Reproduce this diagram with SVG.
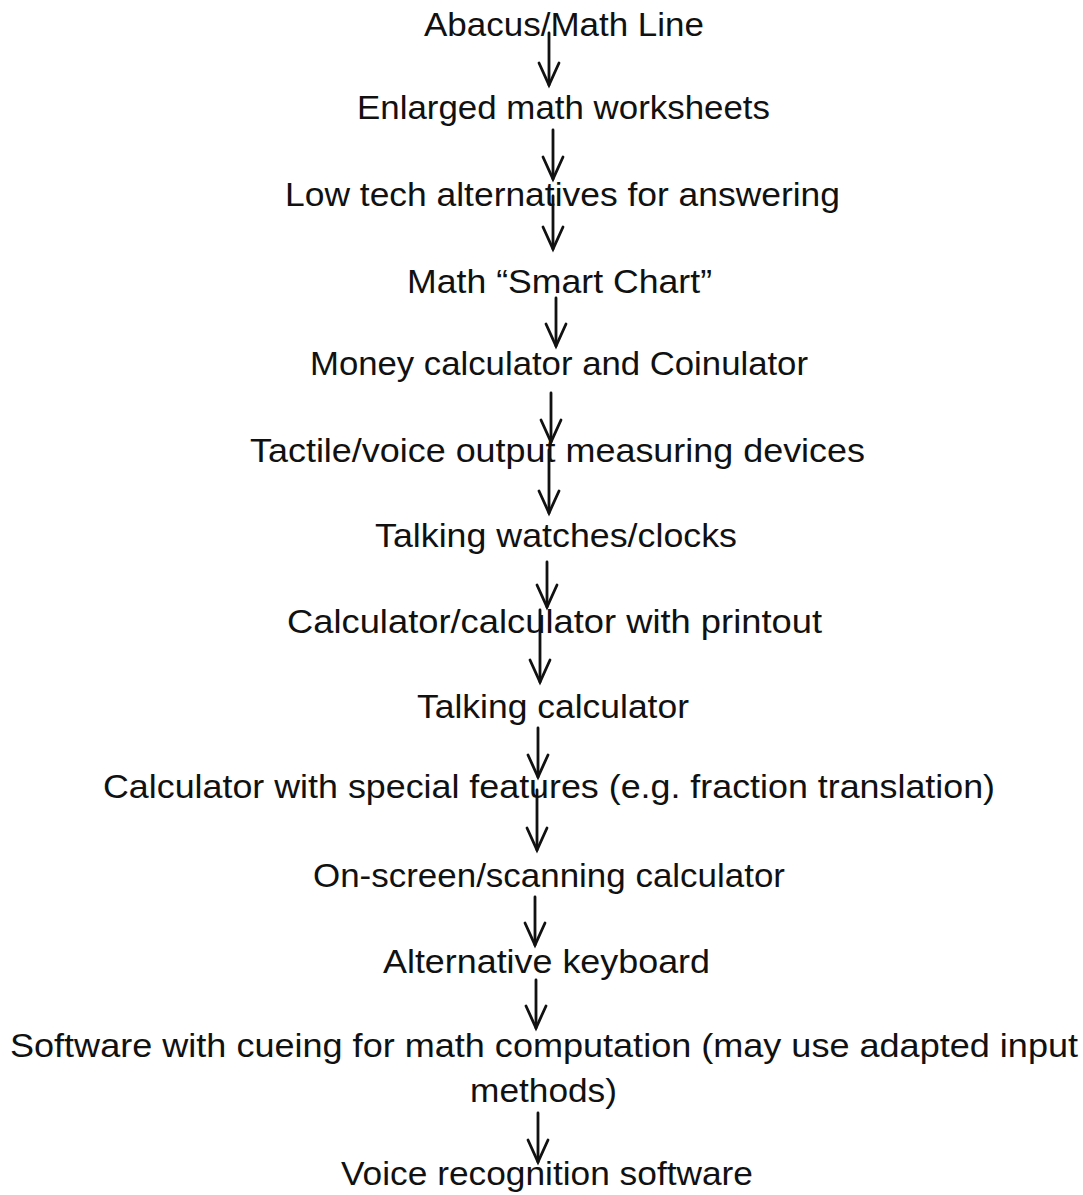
<svg xmlns="http://www.w3.org/2000/svg" width="1083" height="1195" viewBox="0 0 1083 1195">
<style>
text{font-family:"Liberation Sans","DejaVu Sans",sans-serif;font-size:33px;fill:#111}
.c line{stroke:#111;stroke-width:2.8;fill:none;stroke-linecap:round}
</style>
<defs>
<marker id="ah" viewBox="-26 -13 30 26" markerWidth="30" markerHeight="26" markerUnits="userSpaceOnUse" orient="auto" refX="0" refY="0" overflow="visible">
<path d="M-22,-10 L0,0 L-22,10" fill="none" stroke="#111" stroke-width="2.8" stroke-linejoin="miter" stroke-linecap="round"/>
</marker>
</defs>
<rect width="1083" height="1195" fill="#fff"/>
<g id="n1"><text x="424" y="36" textLength="280" lengthAdjust="spacingAndGlyphs">Abacus/Math Line</text></g>
<g id="n2"><text x="357" y="119" textLength="413" lengthAdjust="spacingAndGlyphs">Enlarged math worksheets</text></g>
<g id="n3"><text x="285" y="206" textLength="555" lengthAdjust="spacingAndGlyphs">Low tech alternatives for answering</text></g>
<g id="n4"><text x="407" y="293" textLength="305" lengthAdjust="spacingAndGlyphs">Math “Smart Chart”</text></g>
<g id="n5"><text x="310" y="375" textLength="498" lengthAdjust="spacingAndGlyphs">Money calculator and Coinulator</text></g>
<g id="n6"><text x="250" y="462" textLength="615" lengthAdjust="spacingAndGlyphs">Tactile/voice output measuring devices</text></g>
<g id="n7"><text x="375" y="547" textLength="362" lengthAdjust="spacingAndGlyphs">Talking watches/clocks</text></g>
<g id="n8"><text x="287" y="633" textLength="535" lengthAdjust="spacingAndGlyphs">Calculator/calculator with printout</text></g>
<g id="n9"><text x="417" y="718" textLength="272" lengthAdjust="spacingAndGlyphs">Talking calculator</text></g>
<g id="n10"><text x="103" y="798" textLength="892" lengthAdjust="spacingAndGlyphs">Calculator with special features (e.g. fraction translation)</text></g>
<g id="n11"><text x="313" y="887" textLength="472" lengthAdjust="spacingAndGlyphs">On-screen/scanning calculator</text></g>
<g id="n12"><text x="383" y="973" textLength="327" lengthAdjust="spacingAndGlyphs">Alternative keyboard</text></g>
<g id="n13"><text x="10" y="1057" textLength="1068" lengthAdjust="spacingAndGlyphs">Software with cueing for math computation (may use adapted input</text><text x="470" y="1102" textLength="147" lengthAdjust="spacingAndGlyphs">methods)</text></g>
<g id="n14"><text x="341" y="1185" textLength="412" lengthAdjust="spacingAndGlyphs">Voice recognition software</text></g>
<g class="c" id="connectors">
<line x1="549" y1="33" x2="549" y2="85" marker-end="url(#ah)"/>
<line x1="553" y1="130" x2="553" y2="179" marker-end="url(#ah)"/>
<line x1="553" y1="196" x2="553" y2="249" marker-end="url(#ah)"/>
<line x1="556" y1="298" x2="556" y2="346" marker-end="url(#ah)"/>
<line x1="551" y1="393" x2="551" y2="442" marker-end="url(#ah)"/>
<line x1="549" y1="450" x2="549" y2="513" marker-end="url(#ah)"/>
<line x1="547" y1="562" x2="547" y2="607" marker-end="url(#ah)"/>
<line x1="540" y1="610" x2="540" y2="682" marker-end="url(#ah)"/>
<line x1="538" y1="728" x2="538" y2="777" marker-end="url(#ah)"/>
<line x1="537" y1="790" x2="537" y2="850" marker-end="url(#ah)"/>
<line x1="535" y1="897" x2="535" y2="945" marker-end="url(#ah)"/>
<line x1="536" y1="980" x2="536" y2="1028" marker-end="url(#ah)"/>
<line x1="538" y1="1113" x2="538" y2="1162" marker-end="url(#ah)"/>
</g>
</svg>
